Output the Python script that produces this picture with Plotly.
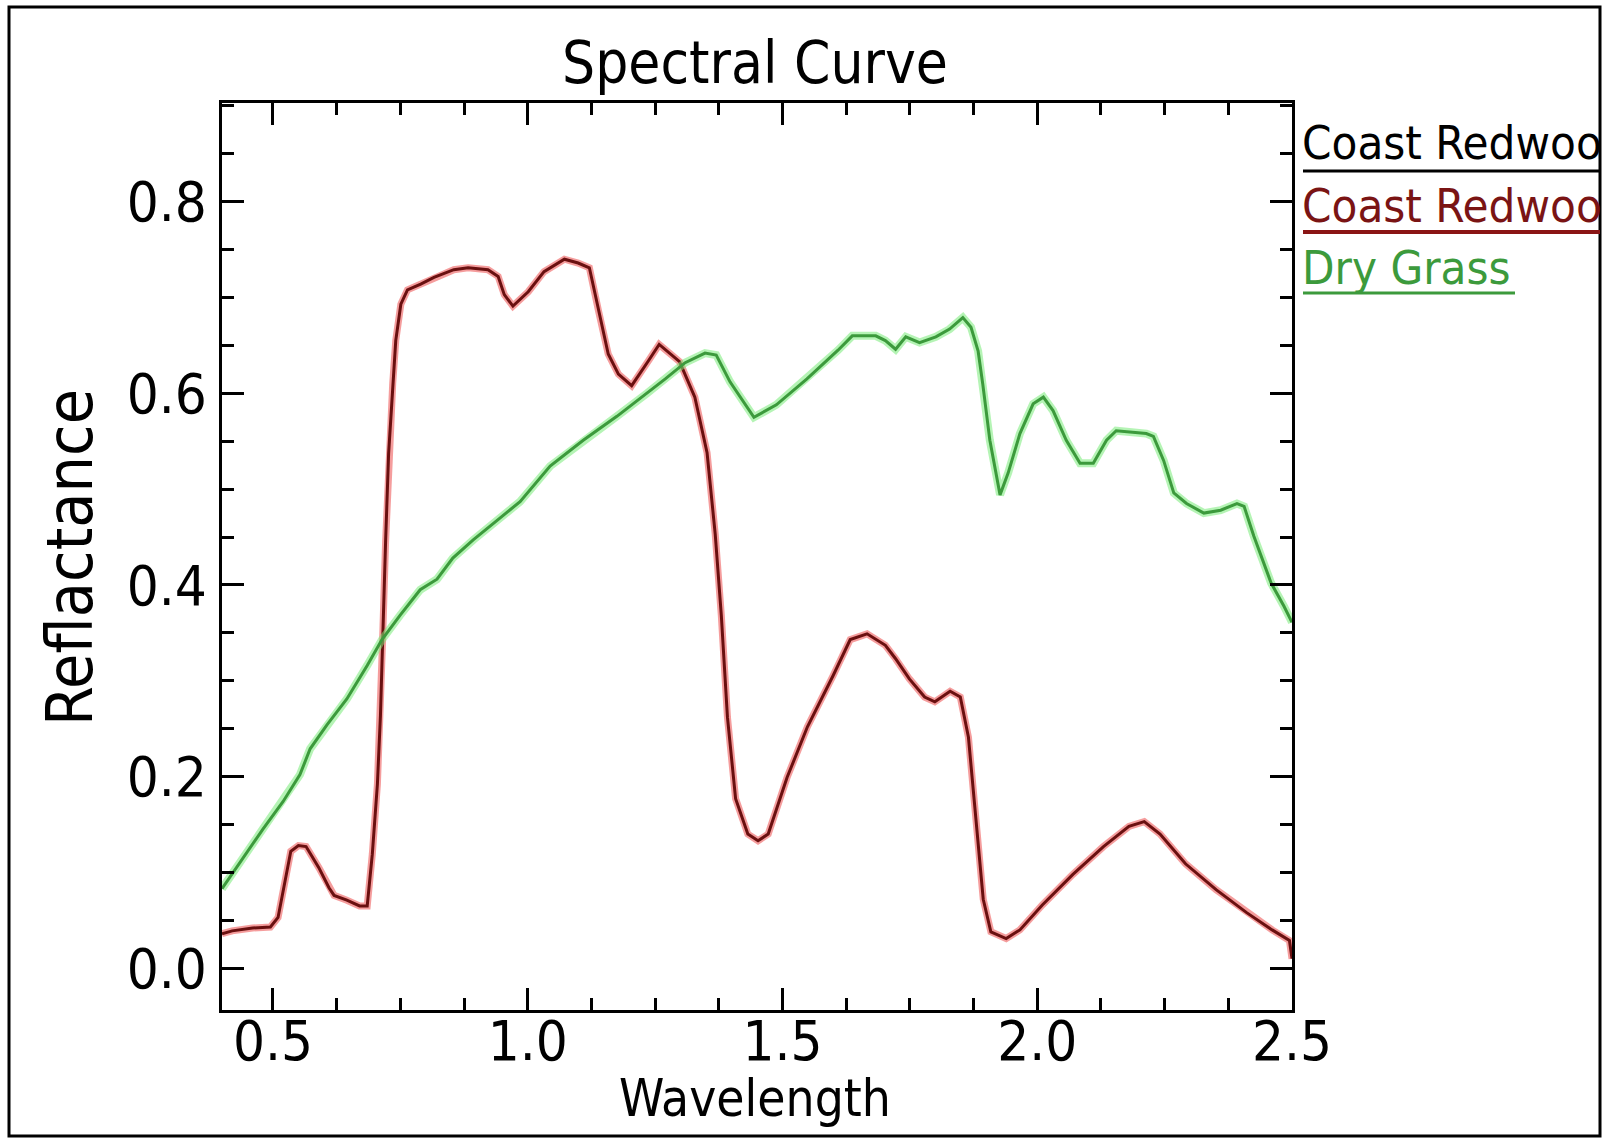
import plotly.graph_objects as go

# ---------------- data ----------------
wl_redwood = [0.40, 0.42, 0.46, 0.495, 0.51, 0.535, 0.55, 0.565, 0.59, 0.61, 0.62, 0.645,
              0.67, 0.685, 0.695, 0.705, 0.711, 0.715, 0.721, 0.727, 0.735, 0.741, 0.751,
              0.764, 0.79, 0.816, 0.855, 0.883, 0.922, 0.942, 0.954, 0.971, 1.001, 1.032,
              1.072, 1.099, 1.121, 1.139, 1.158, 1.178, 1.204, 1.237, 1.258, 1.298, 1.328,
              1.352, 1.368, 1.380, 1.392, 1.408, 1.432, 1.452, 1.472, 1.509, 1.549, 1.599,
              1.633, 1.666, 1.702, 1.722, 1.749, 1.779, 1.799, 1.829, 1.849, 1.865, 1.879,
              1.894, 1.909, 1.939, 1.966, 2.010, 2.070, 2.130, 2.180, 2.210, 2.241, 2.291,
              2.351, 2.411, 2.461, 2.495, 2.50]
refl_redwood = [0.036, 0.039, 0.042, 0.043, 0.053, 0.122, 0.128, 0.127, 0.105, 0.084, 0.076,
                0.071, 0.065, 0.065, 0.119, 0.192, 0.264, 0.340, 0.444, 0.537, 0.610, 0.655,
                0.693, 0.708, 0.714, 0.721, 0.729, 0.731, 0.729, 0.722, 0.703, 0.691, 0.706,
                0.727, 0.740, 0.736, 0.731, 0.686, 0.641, 0.620, 0.608, 0.634, 0.651, 0.633,
                0.596, 0.538, 0.453, 0.368, 0.262, 0.177, 0.140, 0.133, 0.140, 0.199, 0.252,
                0.305, 0.343, 0.349, 0.337, 0.323, 0.302, 0.283, 0.278, 0.289, 0.283, 0.241,
                0.156, 0.072, 0.038, 0.031, 0.040, 0.066, 0.098, 0.127, 0.148, 0.153, 0.140,
                0.109, 0.082, 0.058, 0.040, 0.029, 0.010]

wl_grass = [0.40, 0.441, 0.480, 0.520, 0.553, 0.573, 0.606, 0.645, 0.685, 0.714, 0.749, 0.789,
            0.822, 0.853, 0.893, 0.946, 0.985, 1.044, 1.109, 1.175, 1.234, 1.270, 1.309,
            1.348, 1.370, 1.397, 1.444, 1.488, 1.548, 1.609, 1.637, 1.683, 1.702, 1.722,
            1.742, 1.769, 1.801, 1.828, 1.854, 1.870, 1.884, 1.893, 1.907, 1.927, 1.943,
            1.966, 1.992, 2.012, 2.031, 2.057, 2.084, 2.110, 2.136, 2.155, 2.214, 2.228,
            2.248, 2.268, 2.293, 2.327, 2.360, 2.392, 2.406, 2.425, 2.459, 2.484, 2.50]
refl_grass = [0.083, 0.115, 0.145, 0.174, 0.202, 0.229, 0.254, 0.281, 0.316, 0.343, 0.368,
              0.395, 0.406, 0.428, 0.447, 0.470, 0.487, 0.524, 0.551, 0.576, 0.600, 0.615,
              0.632, 0.642, 0.640, 0.612, 0.575, 0.588, 0.615, 0.645, 0.660, 0.660, 0.655,
              0.646, 0.659, 0.653, 0.659, 0.667, 0.679, 0.669, 0.644, 0.610, 0.551, 0.494,
              0.517, 0.558, 0.589, 0.596, 0.582, 0.551, 0.527, 0.527, 0.551, 0.561, 0.558,
              0.555, 0.530, 0.496, 0.485, 0.475, 0.478, 0.485, 0.482, 0.451, 0.402, 0.378,
              0.361]

legend_labels = ["Coast Redwood", "Coast Redwood", "Dry Grass"]
y_ticks = [0.0, 0.2, 0.4, 0.6, 0.8]
x_ticks = [0.5, 1.0, 1.5, 2.0, 2.5]

# ---------------- figure ----------------
FONT = "DejaVu Sans Condensed, Liberation Sans Narrow, DejaVu Sans, sans-serif"
W, H = 1602, 1138
L, R, T, B = 222, 1292, 103, 1010


def px(xp):
    return (xp - L) / (R - L)


def py(yp):
    return (B - yp) / (B - T)


fig = go.Figure()
# red redwood curve (halo + core), black redwood drawn on top
fig.add_trace(go.Scatter(x=wl_redwood, y=refl_redwood, mode="lines",
                         line=dict(color="rgba(235,60,60,0.5)", width=7), hoverinfo="skip"))
fig.add_trace(go.Scatter(x=wl_redwood, y=refl_redwood, mode="lines",
                         line=dict(color="#6a1010", width=3), name=legend_labels[0]))
# dry grass (halo + core)
fig.add_trace(go.Scatter(x=wl_grass, y=refl_grass, mode="lines",
                         line=dict(color="rgba(120,235,120,0.55)", width=8), hoverinfo="skip"))
fig.add_trace(go.Scatter(x=wl_grass, y=refl_grass, mode="lines",
                         line=dict(color="#3c9a3c", width=3), name=legend_labels[2]))

axis_common = dict(
    showgrid=False, zeroline=False, showline=True, linecolor="black", linewidth=3,
    mirror="allticks", ticks="inside", ticklen=22, tickwidth=3, tickcolor="black",
    tickfont=dict(family=FONT, size=56, color="black"),
)

fig.update_xaxes(range=[0.4, 2.5], tickvals=x_ticks, ticktext=[f"{v:.1f}" for v in x_ticks],
                 ticklabelstandoff=-20,
                 minor=dict(ticks="inside", ticklen=12, tickwidth=3, tickcolor="black",
                            dtick=0.125, tick0=0.5, showgrid=False),
                 **axis_common)
fig.update_yaxes(range=[-0.0436, 0.903], tickvals=y_ticks, ticktext=[f"{v:.1f}" for v in y_ticks],
                 ticklabelstandoff=1,
                 minor=dict(ticks="inside", ticklen=12, tickwidth=3, tickcolor="black",
                            dtick=0.05, tick0=0.0, showgrid=False),
                 **axis_common)

annotations = [
    dict(text="Spectral Curve", x=px(755), y=py(63), xanchor="center", yanchor="middle",
         font=dict(family=FONT, size=58, color="black")),
    dict(text="Wavelength", x=px(755), y=py(1098), xanchor="center", yanchor="middle",
         font=dict(family=FONT, size=51, color="black")),
    dict(text="Reflactance", x=px(70), y=py(558), xanchor="center", yanchor="middle",
         textangle=-90, font=dict(family=FONT, size=64, color="black")),
    dict(text=legend_labels[0], x=px(1300), y=py(143), xanchor="left", yanchor="middle",
         font=dict(family=FONT, size=47, color="black")),
    dict(text=legend_labels[1], x=px(1300), y=py(205), xanchor="left", yanchor="middle",
         font=dict(family=FONT, size=47, color="#7a1414")),
    dict(text=legend_labels[2], x=px(1300), y=py(267), xanchor="left", yanchor="middle",
         font=dict(family=FONT, size=47, color="#3c9a3c")),
]
for a in annotations:
    a.update(xref="paper", yref="paper", showarrow=False)

shapes = [
    # outer frame
    dict(type="rect", xref="paper", yref="paper", x0=px(9), x1=px(1600), y0=py(1136), y1=py(7),
         line=dict(color="black", width=3), layer="below"),
    # legend underlines
    dict(type="line", xref="paper", yref="paper", x0=px(1303), x1=px(1600), y0=py(171), y1=py(171),
         line=dict(color="black", width=3)),
    dict(type="line", xref="paper", yref="paper", x0=px(1303), x1=px(1600), y0=py(232), y1=py(232),
         line=dict(color="#8a1515", width=4)),
    dict(type="line", xref="paper", yref="paper", x0=px(1303), x1=px(1515), y0=py(293), y1=py(293),
         line=dict(color="#3c9a3c", width=3)),
]

fig.update_layout(
    width=W, height=H, autosize=False,
    margin=dict(l=L, r=W - R, t=T, b=H - B, pad=0),
    paper_bgcolor="white", plot_bgcolor="white",
    showlegend=False,
    annotations=annotations, shapes=shapes,
)

fig.write_html("out.html", config={"displayModeBar": False},
               post_script="document.body.style.margin='0';document.body.style.overflow='hidden';")
